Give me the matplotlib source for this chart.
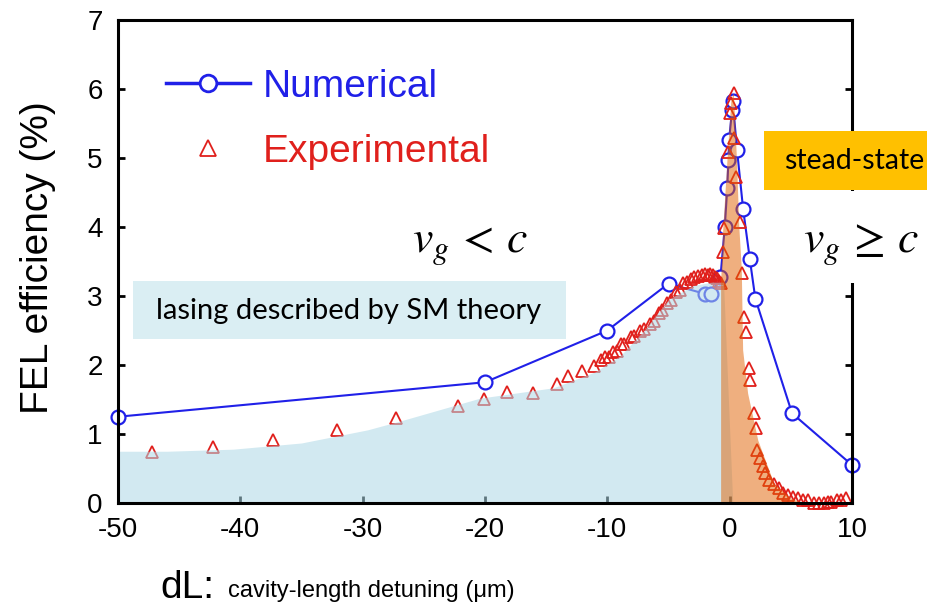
import matplotlib
matplotlib.use("Agg")
import matplotlib.pyplot as plt
from matplotlib.lines import Line2D
from matplotlib.patches import Rectangle

# Numerical FEL efficiency vs cavity-length detuning
num_dl = [-50, -20, -10, -5, -2, -1.5, -0.75, -0.4, -0.2, -0.1, -0.05, 0.2, 0.25,
          0.6, 1.1, 1.65, 2.1, 5.1, 10]
num_eff = [1.25, 1.75, 2.5, 3.18, 3.03, 3.03, 3.28, 4.0, 4.56, 4.97, 5.26, 5.7, 5.82,
           5.12, 4.26, 3.53, 2.96, 1.3, 0.55]

# Measured efficiency
exp_dl = [-47.2, -42.2, -37.3, -32.1, -27.3, -22.2, -20.1, -18.2, -16.1, -14.1,
          -13.2, -12.1, -11.1, -10.5, -10.2, -9.9, -9.5, -9.2, -8.9, -8.6,
          -8.1, -7.8, -7.3, -7.0, -6.5, -6.2, -5.8, -5.5, -5.1, -4.8,
          -4.4, -4.1, -3.8, -3.5, -3.2, -2.9, -2.6, -2.3, -2.0, -1.8,
          -1.6, -1.4, -1.2, -1.0, -0.85, -0.74, -0.55, -0.5, -0.16, 0.0,
          0.1, 0.33, 0.33, 0.5, 0.82, 0.98, 1.15, 1.3, 1.55, 1.7,
          1.96, 2.15, 2.25, 2.45, 2.7, 2.9, 3.2, 3.6, 4.0, 4.4,
          4.8, 5.2, 5.6, 6.0, 6.4, 6.9, 7.3, 7.7, 8.0, 8.3,
          8.8, 9.1, 9.5]
exp_eff = [0.74, 0.81, 0.91, 1.06, 1.23, 1.41, 1.51, 1.61, 1.59, 1.72,
           1.84, 1.91, 1.98, 2.07, 2.11, 2.12, 2.19, 2.2, 2.3, 2.3,
           2.4, 2.42, 2.5, 2.52, 2.6, 2.64, 2.75, 2.8, 2.9, 2.94,
           3.06, 3.08, 3.19, 3.2, 3.24, 3.27, 3.29, 3.3, 3.32, 3.3,
           3.32, 3.3, 3.28, 3.26, 3.22, 3.19, 3.64, 3.99, 5.09, 5.65,
           5.8, 5.94, 5.29, 4.72, 4.07, 3.33, 2.7, 2.48, 1.96, 1.78,
           1.3, 1.08, 0.77, 0.65, 0.54, 0.43, 0.33, 0.28, 0.22, 0.15,
           0.12, 0.09, 0.07, 0.04, 0.04, 0.0, 0.0, 0.0, 0.01, 0.01,
           0.04, 0.04, 0.07]

# Shaded regimes: SM-theory lasing (v_g < c) and steady state (v_g >= c)
sm_dl = [-50, -46, -40.6, -35, -29.6, -26.9, -20.4, -14.4, -11, -8.9, -7, -5, -3,
         -1.5, -0.5, 0.25]
sm_top = [0.75, 0.75, 0.78, 0.87, 1.06, 1.19, 1.52, 1.67, 1.9, 2.14, 2.5, 2.95,
          3.15, 3.2, 3.2, 0.0]
ss_dl = [-0.74, -0.74, -0.57, -0.16, 0.1, 0.3, 0.55, 0.75, 0.95, 1.06, 1.47, 2.3,
         3.6, 5.0, 6.0]
ss_top = [0.0, 3.2, 3.96, 5.16, 5.84, 5.95, 5.0, 4.0, 3.4, 2.22, 1.59, 0.91,
          0.29, 0.07, 0.0]

x_ticks = [-50, -40, -30, -20, -10, 0, 10]
y_ticks = [0, 1, 2, 3, 4, 5, 6, 7]

BLUE = "#2020e8"
RED = "#e0201c"
SANS = ["Liberation Sans", "DejaVu Sans"]
NOTE = ["Lato", "DejaVu Sans"]

plt.rcParams["font.family"] = SANS
plt.rcParams["axes.unicode_minus"] = False
plt.rcParams["mathtext.fontset"] = "stix"

W, H = 928, 613
fig = plt.figure(figsize=(W / 100, H / 100), dpi=100)
ax = fig.add_axes([118 / W, 1 - 503 / H, 734 / W, 483 / H])

ax.plot(num_dl, num_eff, "-o", color=BLUE, lw=1.5, ms=10, mfc="white", mew=1.6,
        zorder=2, clip_on=False)
ax.plot(exp_dl, exp_eff, "^", color=RED, ms=9, mfc="none", mew=1.3, ls="none",
        zorder=2.2, clip_on=False)
ax.fill_between(sm_dl, 0, sm_top, color="#add8e6", alpha=0.55, lw=0, zorder=3)
ax.fill_between(ss_dl, 0, ss_top, color="#e16101", alpha=0.5, lw=0, zorder=3.5)

ax.set_xlim(-50, 10)
ax.set_ylim(0, 7)
ax.set_xticks(x_ticks)
ax.set_yticks(y_ticks)
ax.tick_params(direction="in", length=5, width=2, labelsize=20, right=True, top=False)
ax.tick_params(axis="x", pad=10)
ax.tick_params(axis="y", pad=11)
for spine in ax.spines.values():
    spine.set_linewidth(2.2)
    spine.set_zorder(4)

# legend
h_num = Line2D([], [], color=BLUE, marker="o", mfc="white", ms=12, mew=2, lw=2.5)
h_exp = Line2D([], [], color=RED, marker="^", ls="none", mfc="none", ms=11, mew=1.3)
leg = ax.legend([h_num, h_exp], ["Numerical", "Experimental"], loc="upper left",
                bbox_to_anchor=(166 / W, 1 - 69 / H), bbox_transform=fig.transFigure,
                frameon=False, prop={"family": SANS, "size": 28}, handlelength=2.15,
                handletextpad=0.35, labelspacing=0.74, borderpad=0, borderaxespad=0)
for txt, col in zip(leg.get_texts(), [BLUE, RED]):
    txt.set_color(col)

# axis titles
fig.text(38 / W, 1 - 258 / H, "FEL efficiency (%)", rotation=90, ha="center",
         va="center", fontsize=28)
fig.text(160 / W, 1 - 598 / H, "dL:", fontsize=28, va="baseline")
fig.text(228 / W, 1 - 597 / H, "cavity-length detuning (μm)", fontsize=17,
         va="baseline")

# regime annotations
fig.add_artist(Rectangle((133 / W, 1 - 339 / H), 433 / W, 58 / H,
                         transform=fig.transFigure, color="#daeef3", lw=0, zorder=3))
fig.text(349 / W, 1 - 311 / H, "lasing described by SM theory", ha="center",
         va="center", fontsize=21, family=NOTE, zorder=4)
fig.add_artist(Rectangle((764 / W, 1 - 190 / H), 170 / W, 59 / H,
                         transform=fig.transFigure, color="#ffc000", lw=0, zorder=3))
fig.text(784 / W, 1 - 161 / H, "stead-state", ha="left", va="center", fontsize=20.5,
         family=NOTE, zorder=4)
fig.add_artist(Rectangle((785 / W, 1 - 283 / H), 150 / W, 92 / H,
                         transform=fig.transFigure, color="white", lw=0, zorder=3))
fig.text(470 / W, 1 - 253 / H, r"$v_g\, < \,c$", ha="center", va="baseline",
         fontsize=33)
fig.text(861 / W, 1 - 253 / H, r"$v_g\, \geq \,c$", ha="center", va="baseline",
         fontsize=33, zorder=4)

fig.savefig("out.png", dpi=100)
